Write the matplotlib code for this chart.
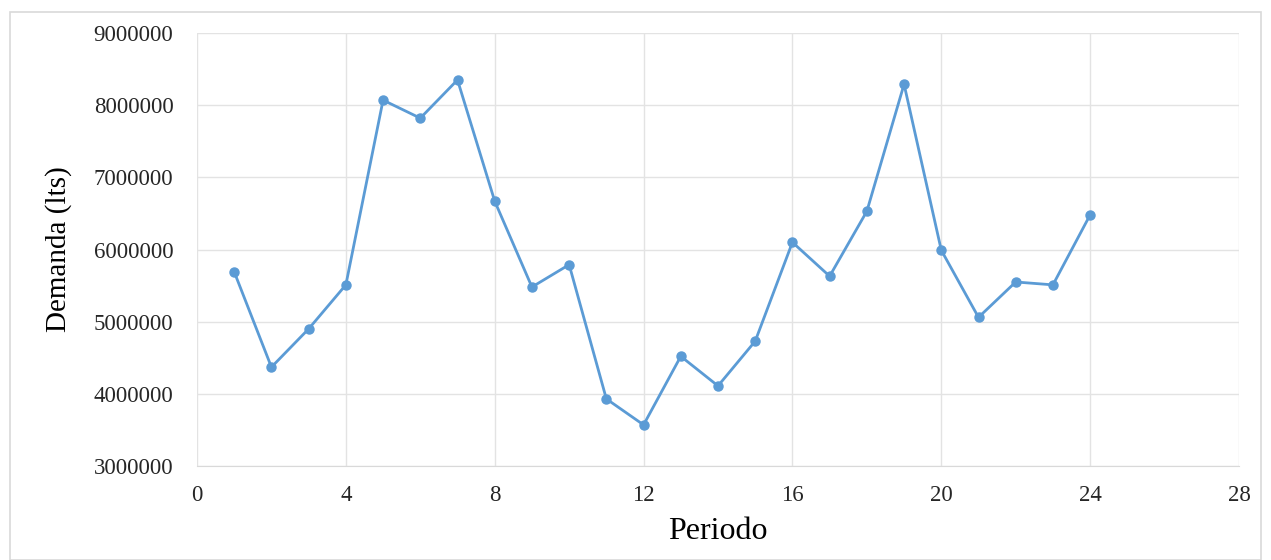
import matplotlib.pyplot as plt
from matplotlib.patches import Rectangle

periodo = list(range(1, 25))
demanda = [5690000, 4370000, 4900000, 5510000, 8070000, 7820000, 8350000, 6670000,
           5480000, 5790000, 3930000, 3570000, 4520000, 4110000, 4730000, 6100000,
           5630000, 6530000, 8290000, 5990000, 5060000, 5550000, 5510000, 6480000]

plt.rcParams["font.family"] = ["Liberation Serif", "DejaVu Serif"]

fig = plt.figure(figsize=(12.71, 5.6), dpi=100)
# thin frame around the whole chart
fig.patches.append(Rectangle((10 / 1271, 0), 1 - 20 / 1271, 1 - 12 / 560,
                             transform=fig.transFigure, fill=False,
                             edgecolor="#d9d9d9", linewidth=1.2))
ax = fig.add_axes([197 / 1271, 1 - 466 / 560, (1239 - 197) / 1271, (466 - 33) / 560])

ax.plot(periodo, demanda, color="#5b9bd5", linewidth=2, marker="o", markersize=6.5)

ax.set_xlim(0, 28)
ax.set_ylim(3000000, 9000000)
ax.set_xticks(range(0, 29, 4))
ax.set_yticks(range(3000000, 9000001, 1000000))
ax.ticklabel_format(axis="y", style="plain", useOffset=False)
ax.grid(True, color="#e3e3e3", linewidth=1)
ax.set_axisbelow(True)
for s in ["top", "right", "left"]:
    ax.spines[s].set_visible(False)
ax.spines["bottom"].set_color("#d9d9d9")
ax.tick_params(length=0, labelsize=16.5, colors="#262626")
ax.tick_params(axis="x", pad=14)
ax.tick_params(axis="y", pad=17)

ax.set_xlabel("Periodo", fontsize=23)
ax.set_ylabel("Demanda (lts)", fontsize=21)
ax.xaxis.set_label_coords(0.5, -0.118)
ax.yaxis.set_label_coords(-0.12, 0.5)

fig.savefig("out.png", dpi=100)
